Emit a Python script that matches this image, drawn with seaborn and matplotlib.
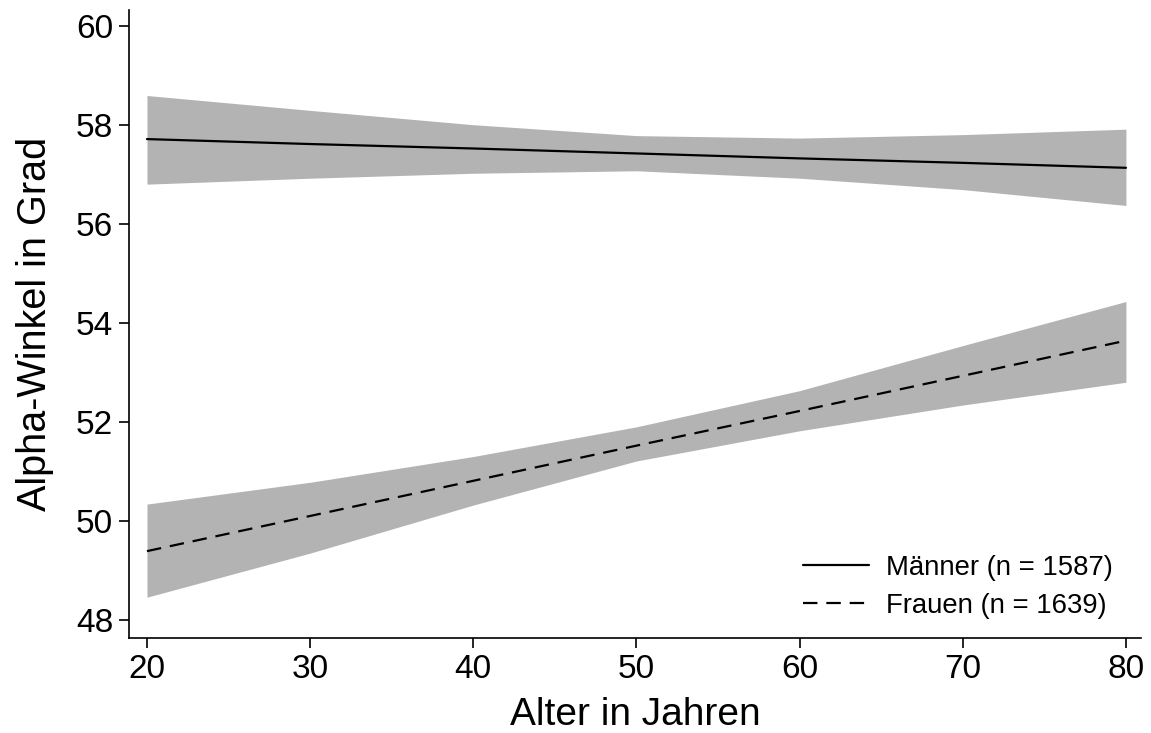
import matplotlib
matplotlib.use("Agg")
import matplotlib.pyplot as plt
import numpy as np
import pandas as pd
import seaborn as sns

# values (Stata marginsplot style)
ages = [20, 30, 40, 50, 60, 70, 80]

maenner_fit = [57.71, 57.61, 57.52, 57.42, 57.32, 57.23, 57.13]
maenner_lo = [56.80, 56.92, 57.02, 57.07, 56.92, 56.69, 56.37]
maenner_hi = [58.59, 58.29, 58.00, 57.78, 57.73, 57.80, 57.91]

frauen_fit = [49.39, 50.10, 50.81, 51.52, 52.22, 52.93, 53.64]
frauen_lo = [48.46, 49.35, 50.32, 51.21, 51.82, 52.34, 52.80]
frauen_hi = [50.34, 50.78, 51.30, 51.90, 52.63, 53.54, 54.43]

label_m = "Männer (n = 1587)"
label_f = "Frauen (n = 1639)"

sns.set_style("ticks")
plt.rcParams['font.family'] = ['Liberation Sans', 'DejaVu Sans']
plt.rcParams['text.color'] = 'black'

df = pd.DataFrame({
    "age": ages + ages,
    "fit": maenner_fit + frauen_fit,
    "group": [label_m] * len(ages) + [label_f] * len(ages),
})

fig = plt.figure(figsize=(11.51, 7.33), dpi=100)
ax = fig.add_axes([0.1121, 0.1296, 0.8793, 0.857])

band = "#b3b3b3"
ax.fill_between(ages, maenner_lo, maenner_hi, color=band, lw=0)
ax.fill_between(ages, frauen_lo, frauen_hi, color=band, lw=0)

sns.lineplot(data=df, x="age", y="fit", style="group",
             dashes={label_m: "", label_f: (6.5, 4)},
             color="black", linewidth=1.6, ax=ax)

ax.set_xlim(18.9, 80.93)
ax.set_ylim(47.636, 60.32)
ax.set_xticks(range(20, 81, 10))
ax.set_yticks(range(48, 61, 2))

sns.despine(ax=ax)
for s in ["left", "bottom"]:
    ax.spines[s].set_linewidth(1.2)
    ax.spines[s].set_color("black")
ax.tick_params(axis="both", labelsize=24, length=7.5, width=1.2,
               colors="black", pad=4)

ax.set_xlabel("Alter in Jahren", fontsize=28, labelpad=9, color="black")
ax.set_ylabel("Alpha-Winkel in Grad", fontsize=28.5, labelpad=16, color="black")

leg = ax.legend(loc="lower right", frameon=False, fontsize=19.8,
                handlelength=2.4, handletextpad=0.65, labelspacing=0.45,
                bbox_to_anchor=(0.997, -0.009))
for t in leg.get_texts():
    t.set_color("black")

fig.savefig("out.png", dpi=100)
